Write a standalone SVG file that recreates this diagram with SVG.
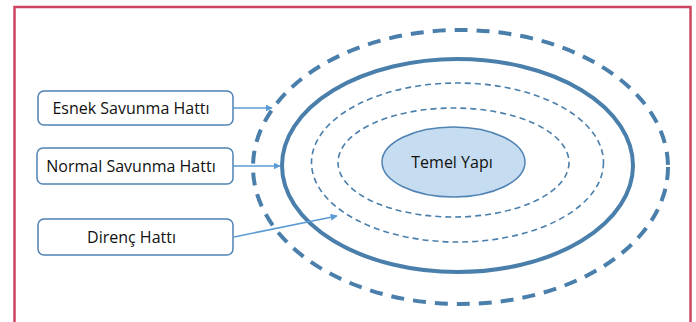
<svg xmlns="http://www.w3.org/2000/svg" width="696" height="322" viewBox="0 0 696 322">
<defs>
<style>
.frame{fill:none;stroke:#cc4460;stroke-width:2.5}
.ring{fill:none;stroke:#4a7fac}
.outer{stroke-width:4;stroke-dasharray:13 9}
.solid{stroke-width:4}
.inner{stroke-width:1.6;stroke-dasharray:6 4}
.core{fill:#c6dcf0;stroke:#4f83b3;stroke-width:1.5}
.box{fill:#ffffff;stroke:#4f83b3;stroke-width:1.5}
.lbl{font-family:"Open Sans","Liberation Sans",sans-serif;font-size:16px;fill:#111111}
.conn{stroke:#5b9bd5;stroke-width:1.6;fill:none}
</style>
<marker id="ah" viewBox="0 0 10 10" refX="9" refY="5" markerWidth="7" markerHeight="7" markerUnits="userSpaceOnUse" orient="auto">
<path d="M0,0 L10,5 L0,10 z" fill="#5b9bd5"/>
</marker>
</defs>
<rect class="frame" x="14.5" y="7" width="676" height="330"/>
<g id="rings">
<ellipse class="ring outer" cx="460.5" cy="167" rx="207.5" ry="137"/>
<ellipse class="ring solid" cx="457.5" cy="165.5" rx="175.5" ry="106.5"/>
<ellipse class="ring inner" cx="457.5" cy="162.5" rx="146" ry="79.5"/>
<ellipse class="ring inner" cx="453.5" cy="162.5" rx="115.5" ry="54.5"/>
</g>
<g id="temel">
<ellipse class="core" cx="453.5" cy="162" rx="71.5" ry="35"/>
<text class="lbl" x="452" y="168" text-anchor="middle">Temel Yapı</text>
</g>
<g id="esnek">
<rect class="box" x="38" y="91" width="195" height="34" rx="6"/>
<text class="lbl" x="131" y="114" text-anchor="middle">Esnek Savunma Hattı</text>
</g>
<g id="normal">
<rect class="box" x="37" y="148" width="196" height="36" rx="6"/>
<text class="lbl" x="131" y="172" text-anchor="middle">Normal Savunma Hattı</text>
</g>
<g id="direnc">
<rect class="box" x="38" y="219" width="195" height="36" rx="6"/>
<text class="lbl" x="131.5" y="243" text-anchor="middle">Direnç Hattı</text>
</g>
<g id="connectors">
<line class="conn" x1="233" y1="108" x2="272" y2="108" marker-end="url(#ah)"/>
<line class="conn" x1="233" y1="166" x2="280" y2="166" marker-end="url(#ah)"/>
<line class="conn" x1="234" y1="237" x2="337" y2="216" marker-end="url(#ah)"/>
</g>
</svg>
